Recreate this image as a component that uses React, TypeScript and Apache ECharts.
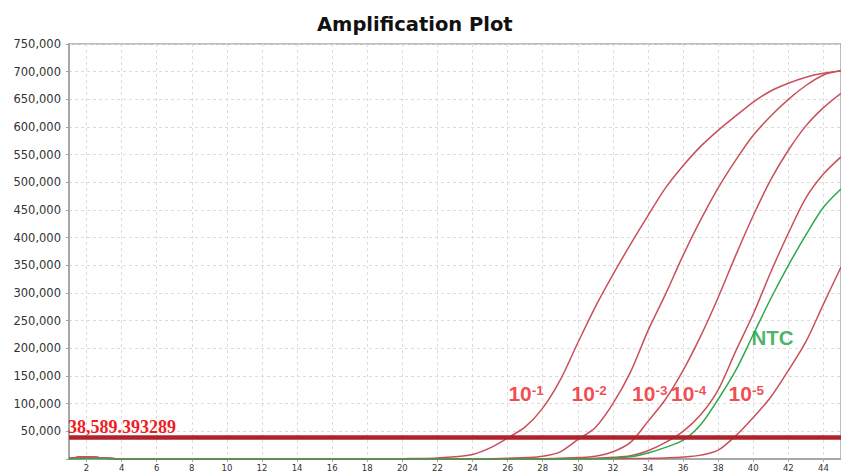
import React, { useEffect, useRef } from "react";
import * as echarts from "echarts";

const cycles = [1, 2, 3, 4, 5, 6, 7, 8, 9, 10, 11, 12, 13, 14, 15, 16, 17, 18, 19, 20, 21, 22, 23, 24, 25, 26, 27, 28, 29, 30, 31, 32, 33, 34, 35, 36, 37, 38, 39, 40, 41, 42, 43, 44, 45];

const dil1 = [1000, 4000, 1500, 0, 0, 0, 0, 0, 0, 0, 0, 0, 0, 0, 0, 0, 0, 0, 200, 500, 1000, 2000, 4000, 8000, 20000, 38000, 58000, 92000, 143000, 210000, 275000, 333000, 388000, 440000, 490000, 530000, 565000, 594000, 620000, 645000, 665000, 679000, 690000, 697000, 701000];
const dil2 = [1000, 4000, 1500, 0, 0, 0, 0, 0, 0, 0, 0, 0, 0, 0, 0, 0, 0, 0, 0, 0, 0, 0, 0, 300, 600, 1200, 2500, 5000, 13000, 35000, 57000, 100000, 157000, 232000, 298000, 368000, 432000, 490000, 540000, 585000, 620000, 650000, 675000, 694000, 702000];
const dil3 = [1000, 4000, 1500, 0, 0, 0, 0, 0, 0, 0, 0, 0, 0, 0, 0, 0, 0, 0, 0, 0, 0, 0, 0, 0, 0, 0, 300, 600, 1200, 2500, 5000, 13000, 30000, 68000, 108000, 160000, 222000, 292000, 368000, 440000, 505000, 558000, 602000, 635000, 661000];
const dil4 = [1000, 4000, 1500, 0, 0, 0, 0, 0, 0, 0, 0, 0, 0, 0, 0, 0, 0, 0, 0, 0, 0, 0, 0, 0, 0, 0, 0, 0, 300, 800, 1500, 3000, 6000, 15000, 30000, 50000, 80000, 125000, 195000, 262000, 338000, 408000, 472000, 515000, 546000];
const dil5 = [1000, 4000, 1500, 0, 0, 0, 0, 0, 0, 0, 0, 0, 0, 0, 0, 0, 0, 0, 0, 0, 0, 0, 0, 0, 0, 0, 0, 0, 0, 0, 200, 500, 800, 1200, 2000, 3500, 7000, 16000, 42000, 75000, 112000, 160000, 212000, 280000, 347000];
const ntc = [0, 1000, 500, 0, 0, 0, 0, 0, 0, 0, 0, 0, 0, 0, 0, 0, 0, 0, 0, 0, 0, 0, 0, 0, 0, 0, 0, 0, 0, 200, 500, 1500, 4000, 11000, 21000, 34000, 62000, 108000, 160000, 225000, 290000, 350000, 405000, 455000, 488000];

const threshold = 38589.393289;
const thresholdText = "38,589.393289";

const xTicks = [2, 4, 6, 8, 10, 12, 14, 16, 18, 20, 22, 24, 26, 28, 30, 32, 34, 36, 38, 40, 42, 44];

const dilutionSeries = [
  { name: "10-1", values: dil1 },
  { name: "10-2", values: dil2 },
  { name: "10-3", values: dil3 },
  { name: "10-4", values: dil4 },
  { name: "10-5", values: dil5 },
];

// annotation anchors (cycle, fluorescence)
const dilutionLabels = [
  { exp: "-1", at: [27.05, 118000] },
  { exp: "-2", at: [30.65, 118000] },
  { exp: "-3", at: [34.1, 118000] },
  { exp: "-4", at: [36.32, 118000] },
  { exp: "-5", at: [39.6, 118000] },
];
const ntcLabel = { text: "NTC", at: [41.1, 220000] };

const RED_LINE = "#c8505a";
const GREEN_LINE = "#2fa84c";
const RED_TEXT = "#ee1d25";
const GREEN_TEXT = "#1c9f46";

export default function App() {
  const ref = useRef<HTMLDivElement>(null);
  useEffect(() => {
    if (!ref.current) return;
    const chart = echarts.init(ref.current, undefined, { renderer: "svg" });
    const lineSeries: any[] = dilutionSeries.map((s) => ({
      type: "line",
      name: s.name,
      data: cycles.map((c, i) => [c, s.values[i]]),
      showSymbol: false,
      symbol: "none",
      smooth: 0.3,
      lineStyle: { color: RED_LINE, width: 1.5 },
      z: 3,
    }));
    lineSeries.push({
      type: "line",
      name: "NTC",
      data: cycles.map((c, i) => [c, ntc[i]]),
      showSymbol: false,
      symbol: "none",
      smooth: 0.3,
      lineStyle: { color: GREEN_LINE, width: 1.5 },
      z: 4,
      markLine: {
        silent: true,
        symbol: "none",
        animation: false,
        lineStyle: { color: "#b0232a", width: 4.5, type: "solid" },
        label: {
          show: true,
          position: "insideStartTop",
          formatter: thresholdText,
          distance: [-1, 2],
          color: RED_TEXT,
          fontFamily: "Liberation Serif",
          fontWeight: "bold",
          fontSize: 18,
        },
        data: [{ yAxis: threshold }],
        z: 6,
      },
    });
    lineSeries.push({
      type: "scatter",
      name: "labels",
      symbolSize: 0,
      silent: true,
      z: 8,
      data: dilutionLabels.map((d) => ({ value: d.at, exp: d.exp })),
      label: {
        show: true,
        position: "inside",
        formatter: (p: any) => `{b|10}{s|${p.data.exp}}`,
        rich: {
          b: {
            fontFamily: "Liberation Sans",
            fontWeight: "bold",
            fontSize: 21,
            color: RED_TEXT,
            verticalAlign: "bottom",
          },
          s: {
            fontFamily: "Liberation Sans",
            fontWeight: "bold",
            fontSize: 13.5,
            color: RED_TEXT,
            verticalAlign: "bottom",
            padding: [0, 0, 7, 0],
          },
        },
      },
    });
    lineSeries.push({
      type: "scatter",
      name: "ntcLabel",
      symbolSize: 0,
      silent: true,
      z: 8,
      data: [{ value: ntcLabel.at }],
      label: {
        show: true,
        position: "inside",
        formatter: ntcLabel.text,
        fontFamily: "Liberation Sans",
        fontWeight: "bold",
        fontSize: 20.5,
        color: GREEN_TEXT,
      },
    });

    chart.setOption({
      animation: false,
      backgroundColor: "#ffffff",
      title: {
        text: "Amplification Plot",
        left: 317,
        top: 14,
        padding: 0,
        textStyle: {
          fontFamily: "DejaVu Sans",
          fontWeight: "bold",
          fontSize: 19.5,
          color: "#111111",
        },
      },
      grid: {
        left: 69,
        right: -8,
        top: 44,
        bottom: 15,
        show: true,
        borderColor: "#a8a8a8",
        borderWidth: 1.5,
        containLabel: false,
      },
      xAxis: {
        type: "value",
        min: 1,
        max: 45,
        axisLine: { show: true, lineStyle: { color: "#a8a8a8", width: 2 } },
        axisTick: { show: true, length: 3, customValues: xTicks, lineStyle: { color: "#a8a8a8" } },
        axisLabel: {
          customValues: xTicks,
          fontFamily: "DejaVu Sans",
          fontSize: 8.5,
          color: "#333333",
          margin: 4,
        },
        splitLine: { show: true, lineStyle: { color: "#dcdcdc", type: [3, 3], width: 1 } },
      },
      yAxis: {
        type: "value",
        min: 0,
        max: 750000,
        interval: 50000,
        axisLine: { show: true, lineStyle: { color: "#a0a0a0", width: 1.5 } },
        axisTick: { show: true, length: 3, lineStyle: { color: "#a0a0a0" } },
        axisLabel: {
          fontFamily: "DejaVu Sans",
          fontSize: 11.5,
          color: "#333333",
          margin: 8,
          formatter: (v: number) => (v === 0 ? "" : v.toLocaleString("en-US")),
        },
        splitLine: { show: true, lineStyle: { color: "#dcdcdc", type: [3, 3], width: 1 } },
      },
      series: lineSeries,
    });
    return () => chart.dispose();
  }, []);
  return (
    <div
      ref={ref}
      style={{ position: "fixed", left: 0, top: 0, width: 841, height: 474 }}
    />
  );
}
